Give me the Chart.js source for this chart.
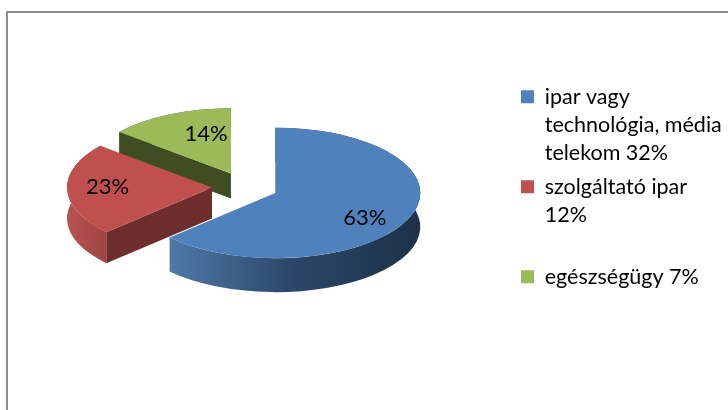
<!DOCTYPE html>
<html>
<head>
<meta charset="utf-8">
<style>
  html, body { margin: 0; padding: 0; background: #fff; overflow: hidden; }
  #frame { position: absolute; left: 6px; top: 11px; width: 730px; height: 410px; border: 2px solid #8c8c8c; box-sizing: border-box; }
  #wrap { position: absolute; left: 0; top: 0; width: 728px; height: 410px; }
</style>
<script src="https://cdn.jsdelivr.net/npm/chart.js@4/dist/chart.umd.min.js"></script>
</head>
<body>
<div id="frame"></div>
<div id="wrap"><canvas id="pie" width="728" height="410"></canvas></div>
<script>
// adatok
const categories = [
  ["ipar vagy", "technológia, média", "telekom 32%"],
  ["szolgáltató ipar", "12%", ""],
  ["egészségügy 7%"]
];
const shares = [63, 23, 14];
const colors = ["#4f81bd", "#c0504d", "#9bbb59"];

// stílus
const FONT = "Lato, 'Open Sans', sans-serif";
const TILT = 0.45;
const EXPLODE = 33;
const PIE_CENTER_X = 245;
const PIE_CENTER_Y = 187;
const depths = [34, 31, 25];
const cutColors = ["#1f3550", "#6e2e2c", "#404c21"];
const wallStops = [
  ["#4f79aa", "#2a4668", "#1d3249"],
  ["#b8514e", "#8a3b39", "#6e2e2c"],
  ["#6f8740", "#55692e", "#404c21"]
];
const labelShift = [[23, 12], [-32, -2], [6, -10]];

// ál-3D: a szeleteket lapítjuk, alájuk falat rajzolunk
const tilt3d = {
  id: "tilt3d",
  afterDatasetsUpdate(chart) {
    // a beépített offset szeletenként más sugarat ad, ezért kézzel toljuk szét
    chart.getDatasetMeta(0).data.forEach((a) => {
      const mid = (a.startAngle + a.endAngle) / 2;
      a.x = PIE_CENTER_X + Math.cos(mid) * EXPLODE;
      a.y += Math.sin(mid) * EXPLODE;
    });
  },
  beforeDatasetsDraw(chart) {
    const ctx = chart.ctx;
    const arcs = chart.getDatasetMeta(0).data;
    const cy = (chart.chartArea.top + chart.chartArea.bottom) / 2;
    ctx.save();
    ctx.translate(0, PIE_CENTER_Y);
    ctx.scale(1, TILT);
    ctx.translate(0, -cy);
    // hátulról előre
    [2, 1, 0].forEach((i) => {
      const a = arcs[i];
      const t = depths[i] / TILT;
      const r = a.outerRadius;

      const from = i === 0 ? a.x + Math.cos(a.endAngle) * r : a.x - r;
      const grad = ctx.createLinearGradient(from, 0, i === 0 ? a.x + r : a.x, 0);
      wallStops[i].forEach((c, k) => grad.addColorStop(k / 2, c));
      ctx.beginPath();
      ctx.arc(a.x, a.y, r, a.startAngle, a.endAngle);
      ctx.arc(a.x, a.y + t, r, a.endAngle, a.startAngle, true);
      ctx.closePath();
      ctx.fillStyle = grad;
      ctx.fill();

      // csak a kezdő vágott lap látszik
      const ex = a.x + Math.cos(a.startAngle) * r;
      const ey = a.y + Math.sin(a.startAngle) * r;
      ctx.beginPath();
      ctx.moveTo(a.x, a.y);
      ctx.lineTo(ex, ey);
      ctx.lineTo(ex, ey + t);
      ctx.lineTo(a.x, a.y + t);
      ctx.closePath();
      ctx.fillStyle = cutColors[i];
      ctx.fill();
    });
  },
  afterDatasetsDraw(chart) {
    const ctx = chart.ctx;
    ctx.restore();
    const arcs = chart.getDatasetMeta(0).data;
    const cy = (chart.chartArea.top + chart.chartArea.bottom) / 2;
    ctx.save();
    ctx.font = "22px " + FONT;
    ctx.fillStyle = "#000";
    ctx.textAlign = "center";
    ctx.textBaseline = "middle";
    arcs.forEach((a, i) => {
      const p = a.tooltipPosition();
      const y = PIE_CENTER_Y + (p.y - cy) * TILT;
      ctx.fillText(shares[i] + "%", p.x + labelShift[i][0], y + labelShift[i][1]);
    });
    ctx.restore();
  }
};

new Chart(document.getElementById("pie"), {
  type: "pie",
  data: {
    labels: categories,
    datasets: [{
      data: shares,
      backgroundColor: colors,
      borderWidth: 0,
      clip: false
    }]
  },
  options: {
    responsive: false,
    animation: false,
    radius: 145,
    layout: { padding: { left: 0, right: 2, top: 80, bottom: 70 } },
    plugins: {
      tooltip: { enabled: false },
      legend: {
        position: "right",
        align: "start",
        maxWidth: 211,
        labels: {
          boxWidth: 13,
          boxHeight: 13,
          padding: 6,
          color: "#000",
          font: { family: FONT, size: 21.5, lineHeight: 28 / 21.5 }
        }
      }
    }
  },
  plugins: [tilt3d]
});
</script>
</body>
</html>
